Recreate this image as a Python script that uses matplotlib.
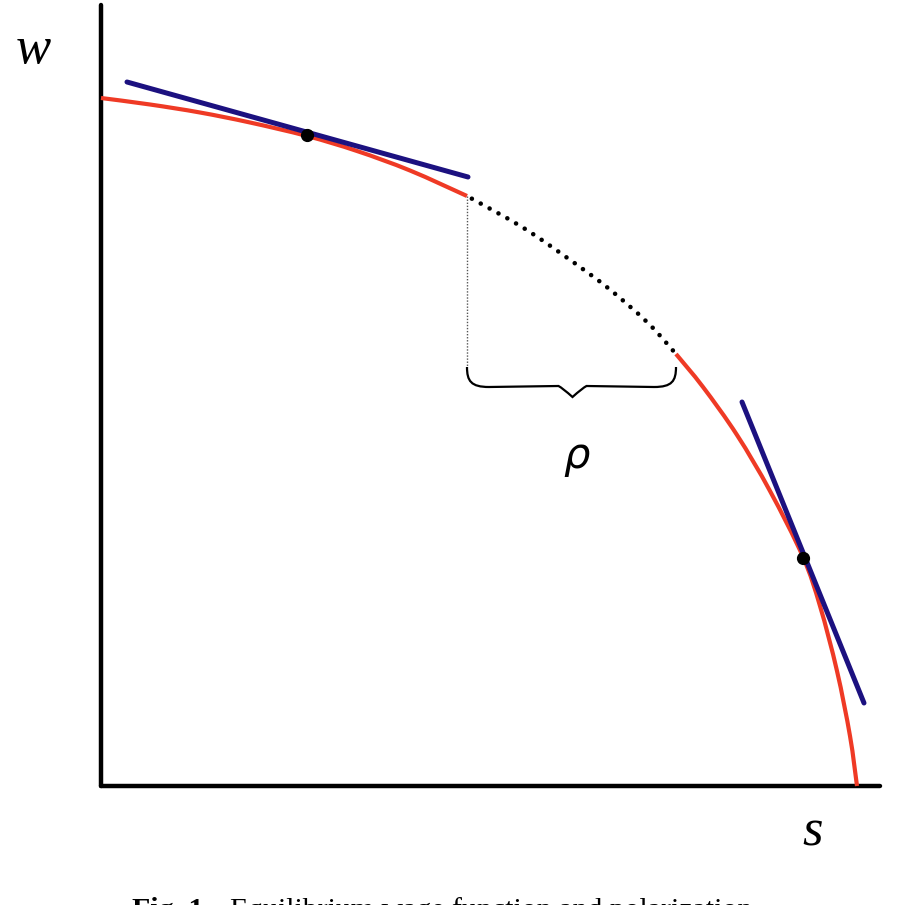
import numpy as np
import matplotlib
matplotlib.use("Agg")
import matplotlib.pyplot as plt
from matplotlib.path import Path
from matplotlib.patches import PathPatch

# ---- data (s = skill, w = wage, arbitrary units) ----
upper_s = [0, 49, 99, 149, 206, 256, 309, 366]
upper_w = [688, 681.5, 673.5, 663.5, 650, 635, 615.5, 590]
gap_s = [366, 421, 465, 507, 547, 575]
gap_w = [590, 559, 529, 498, 463, 432]
lower_s = [575, 602, 636, 669, 702, 719, 736, 749, 756]
lower_w = [432, 399, 351, 295, 229, 180, 115, 50, 0]

tan1_s = [26, 367]
tan1_w = [704, 609]
tan2_s = [641, 763]
tan2_w = [384, 83]
point_s = [206, 702]
point_w = [651, 228]

brace_top_w = 419
brace_mid_w = 399
brace_tip_w = 389

s_max, w_max = 779, 781

RED = "#EF3A25"
BLUE = "#1C1180"

W, H = 898, 905
fig = plt.figure(figsize=(W / 100, H / 100), dpi=100)
ax = fig.add_axes([101 / W, (H - 786) / H, 779 / W, 781 / H])
ax.set_xlim(0, s_max)
ax.set_ylim(0, w_max)
for sp in ("top", "right"):
    ax.spines[sp].set_visible(False)
for sp in ("left", "bottom"):
    ax.spines[sp].set_linewidth(3.2)
    ax.spines[sp].set_color("black")
    ax.spines[sp].set_capstyle("round")
ax.set_xticks([])
ax.set_yticks([])


def smooth_path(xs, ys):
    pts = np.column_stack([xs, ys]).astype(float)
    n = len(pts)
    verts = [pts[0]]
    codes = [Path.MOVETO]
    for i in range(n - 1):
        p0 = pts[i - 1] if i > 0 else pts[i]
        p1 = pts[i]
        p2 = pts[i + 1]
        p3 = pts[i + 2] if i + 2 < n else pts[i + 1]
        c1 = p1 + (p2 - p0) / 6.0
        c2 = p2 - (p3 - p1) / 6.0
        verts += [c1, c2, p2]
        codes += [Path.CURVE4] * 3
    return Path(verts, codes)


for xs, ys in ((upper_s, upper_w), (lower_s, lower_w)):
    ax.add_patch(PathPatch(smooth_path(xs, ys), fill=False, edgecolor=RED,
                           lw=3.0, capstyle="butt", clip_on=False, zorder=3))

gap = PathPatch(smooth_path(gap_s, gap_w), fill=False, edgecolor="black",
                lw=3.3, linestyle=(1.0, (0.01, 2.2)), capstyle="round",
                clip_on=False, zorder=3)
gap.set_capstyle("round")
ax.add_patch(gap)

ax.plot(tan1_s, tan1_w, color=BLUE, lw=3.6, solid_capstyle="round", zorder=4)
ax.plot(tan2_s, tan2_w, color=BLUE, lw=3.6, solid_capstyle="round", zorder=4)
ax.plot(point_s, point_w, "o", color="black", ms=8.5, zorder=5)

# vertical guide
ax.plot([gap_s[0], gap_s[0]], [gap_w[0], brace_top_w], color="#555555",
        lw=1.0, linestyle=(0, (1, 1.2)), zorder=2)

# brace
a, b = gap_s[0], gap_s[-1]
m = (a + b) / 2 + 1
bv = [
    (a, brace_top_w), (a, brace_mid_w + 6), (a + 4, brace_mid_w), (a + 22, brace_mid_w),
    (m - 14, brace_mid_w + 1), (m - 10, brace_mid_w - 1), (m, brace_tip_w),
    (m + 10, brace_mid_w - 1), (m + 14, brace_mid_w + 1), (b - 22, brace_mid_w),
    (b - 4, brace_mid_w), (b, brace_mid_w + 6), (b, brace_top_w),
]
bc = [Path.MOVETO, Path.CURVE4, Path.CURVE4, Path.CURVE4,
      Path.LINETO, Path.CURVE3, Path.CURVE3,
      Path.CURVE3, Path.CURVE3, Path.LINETO,
      Path.CURVE4, Path.CURVE4, Path.CURVE4]
ax.add_patch(PathPatch(Path(bv, bc), fill=False, edgecolor="black", lw=1.6,
                       joinstyle="miter", zorder=3))

ax.text(m + 4, 330, "ρ", fontsize=30, style="italic", family="DejaVu Sans",
        ha="center", va="center")

serif = ["Liberation Serif", "DejaVu Serif"]
fig.text(33 / W, 1 - 50 / H, "w", fontsize=38, style="italic", family=serif,
         ha="center", va="center")
fig.text(813 / W, 1 - 832 / H, "s", fontsize=38, style="italic", family=serif,
         ha="center", va="center")

fig.text(132 / W, 1 - 897 / H, "Fig. 1.", fontsize=21.5, weight="bold",
         family=serif, ha="left", va="top")
fig.text(230 / W, 1 - 897 / H, "Equilibrium wage function and polarization.",
         fontsize=21.5, family=serif, ha="left", va="top")

fig.savefig("out.png", dpi=100)
